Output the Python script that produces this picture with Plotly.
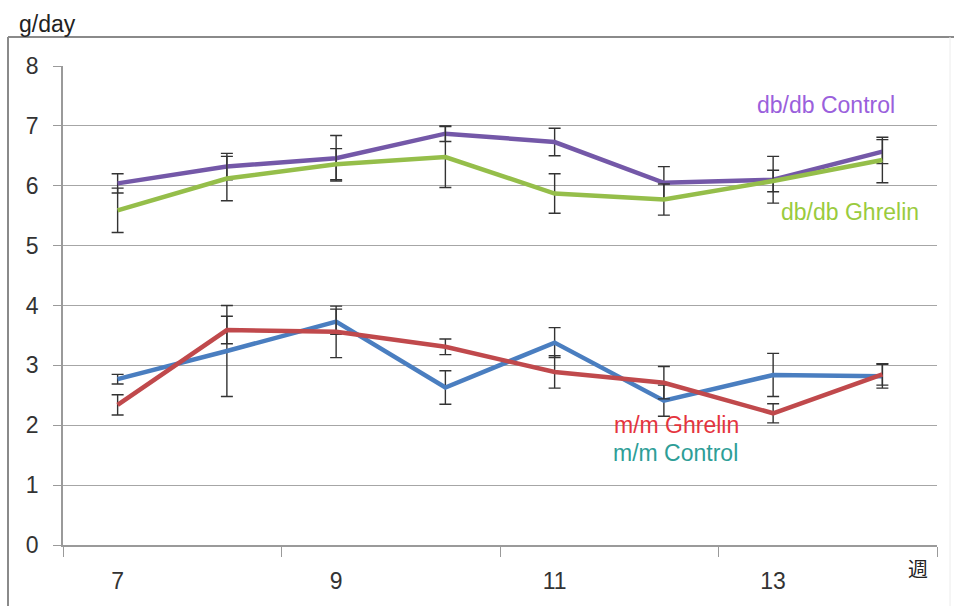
import plotly.graph_objects as go

# Weekly food intake (g/day) by group, mean ± error
weeks = [7, 8, 9, 10, 11, 12, 13, 14]
week_labels = ["7", "9", "11", "13"]

dbdb_control = [6.04, 6.32, 6.46, 6.87, 6.73, 6.05, 6.10, 6.57]
dbdb_control_err = [0.16, 0.22, 0.38, 0.13, 0.23, 0.27, 0.39, 0.20]

dbdb_ghrelin = [5.59, 6.12, 6.36, 6.48, 5.87, 5.77, 6.08, 6.43]
dbdb_ghrelin_err = [0.37, 0.37, 0.26, 0.51, 0.33, 0.26, 0.18, 0.38]

mm_control = [2.77, 3.24, 3.73, 2.63, 3.38, 2.41, 2.84, 2.82]
mm_control_err = [0.08, 0.76, 0.21, 0.28, 0.25, 0.26, 0.36, 0.20]

mm_ghrelin = [2.34, 3.59, 3.56, 3.31, 2.89, 2.71, 2.20, 2.85]
mm_ghrelin_err = [0.17, 0.23, 0.43, 0.13, 0.27, 0.27, 0.16, 0.18]

W, H = 954, 606
FONT = "Liberation Sans, Arial, sans-serif"
AXIS_GRAY = "#9a9a9a"
ERR_COLOR = "#333333"


def px(x):
    return x / W


def py(y):
    return 1 - y / H


series = [
    (mm_control, mm_control_err, "#4A7EC0", "m/m Control"),
    (mm_ghrelin, mm_ghrelin_err, "#C0494C", "m/m Ghrelin"),
    (dbdb_control, dbdb_control_err, "#7458A8", "db/db Control"),
    (dbdb_ghrelin, dbdb_ghrelin_err, "#95BE4A", "db/db Ghrelin"),
]

fig = go.Figure()
for vals, errs, color, name in series:
    fig.add_trace(go.Scatter(
        x=weeks, y=vals, mode="lines", name=name,
        line=dict(color=color, width=4.5),
        error_y=dict(type="data", array=errs, visible=True,
                     color=ERR_COLOR, thickness=1.4, width=6),
        showlegend=False,
    ))

# Series name labels placed beside their lines
labels = [
    ("db/db Control", 13.48, 7.35, "#9A60DC"),
    ("db/db Ghrelin", 13.70, 5.56, "#9ACB3E"),
    ("m/m Ghrelin", 12.12, 2.00, "#E5343E"),
    ("m/m Control", 12.11, 1.53, "#2E9E97"),
]
annotations = [
    dict(x=x, y=y, xref="x", yref="y", text=t, showarrow=False,
         xanchor="center", yanchor="middle",
         font=dict(family=FONT, size=23, color=c))
    for t, x, y, c in labels
]
annotations.append(dict(x=px(17), y=py(24), xref="paper", yref="paper",
                        text="g/day", showarrow=False, xanchor="left",
                        yanchor="middle",
                        font=dict(family=FONT, size=23, color="#222222")))
annotations.append(dict(x=px(918), y=py(568), xref="paper", yref="paper",
                        text="週", showarrow=False, xanchor="center",
                        yanchor="middle",
                        font=dict(family="Noto Sans CJK JP", size=20,
                                  color="#222222")))

# Chart frame: top and left edges, faint right edge
shapes = [
    dict(type="line", xref="paper", yref="paper", x0=px(8), x1=1,
         y0=py(37), y1=py(37), line=dict(color="#8a8a8a", width=2)),
    dict(type="line", xref="paper", yref="paper", x0=px(8), x1=px(8),
         y0=py(37), y1=0, line=dict(color="#8a8a8a", width=2)),
    dict(type="line", xref="paper", yref="paper", x0=px(950), x1=px(950),
         y0=py(37), y1=0, line=dict(color="#ececec", width=1)),
]

fig.update_layout(
    width=W, height=H,
    margin=dict(l=0, r=0, t=0, b=0, pad=0, autoexpand=False),
    paper_bgcolor="white", plot_bgcolor="white",
    annotations=annotations, shapes=shapes,
    xaxis=dict(
        domain=[px(63), px(937)], range=[6.5, 14.5],
        tickvals=[7, 9, 11, 13], ticktext=week_labels,
        ticks="outside", ticklen=15, tickcolor="rgba(0,0,0,0)",
        minor=dict(tickvals=[6.5, 8.5, 10.5, 12.5, 14.5], ticks="outside",
                   ticklen=10, tickcolor=AXIS_GRAY, tickwidth=1),
        showline=True, linecolor=AXIS_GRAY, linewidth=1.5,
        showgrid=False, zeroline=False, automargin=False,
        tickfont=dict(family=FONT, size=23, color="#333333"),
    ),
    yaxis=dict(
        domain=[py(545), py(66)], range=[0, 8],
        tickvals=list(range(0, 9)),
        ticks="outside", ticklen=8, tickcolor=AXIS_GRAY, tickwidth=1,
        ticklabelstandoff=10,
        showline=True, linecolor=AXIS_GRAY, linewidth=1.5,
        showgrid=True, gridcolor="#a6a6a6", gridwidth=1.2,
        zeroline=False, automargin=False,
        tickfont=dict(family=FONT, size=23, color="#333333"),
    ),
)

fig.write_html("out.html")
